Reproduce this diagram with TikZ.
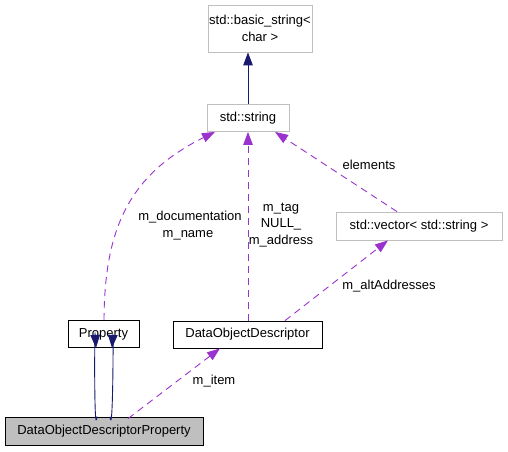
\documentclass[tikz,border=0pt]{standalone}
\usepackage{fontspec}
\setmainfont{Liberation Sans}
\usetikzlibrary{arrows.meta}
\definecolor{edgepurple}{HTML}{9A32CD}
\definecolor{edgenavy}{HTML}{191970}
\definecolor{boxgray}{HTML}{BFBFBF}
\begin{document}
\begin{tikzpicture}[x=1pt,y=-1pt,
  every node/.style={font=\fontsize{13}{16.5}\selectfont, inner sep=0pt, align=center},
  cls/.style={draw=black, line width=0.8pt, minimum height=27pt},
  extcls/.style={draw=boxgray, line width=0.8pt},
  curcls/.style={draw=black, fill=boxgray, line width=0.8pt, minimum height=28pt},
  inh/.style={draw=edgenavy, line width=0.9pt, -{Triangle[length=13pt,width=9.5pt]}},
  usage/.style={draw=edgepurple, line width=0.9pt, dash pattern=on 7pt off 5pt, -{Triangle[length=13pt,width=9.5pt]}},
  lbl/.style={font=\fontsize{13}{16.5}\selectfont}]
\useasboundingbox (0,0) rectangle (508,451);

\node[extcls, minimum width=104pt, minimum height=47pt] (bs) at (260,28.5) {std::basic\_string<\\char >};
\node[extcls, minimum width=82pt, minimum height=27pt] (str) at (248,118) {std::string};
\node[extcls, minimum width=166pt, minimum height=28pt] (vec) at (419,226) {std::vector< std::string >};
\node[cls, minimum width=71pt] (prop) at (103.5,334) {Property};
\node[cls, minimum width=149pt] (dod) at (247.5,334.5) {DataObjectDescriptor};
\node[curcls, minimum width=198pt] (dodp) at (104,431) {DataObjectDescriptorProperty};

% inheritance
\draw[inh] (str.north) -- ([xshift=-12pt]bs.south);
\draw[inh] ([xshift=-7pt]dodp.north) .. controls ([xshift=-10pt,yshift=-25pt]dodp.north) and ([xshift=-9pt,yshift=25pt]prop.south) .. ([xshift=-7.5pt]prop.south);
\draw[inh] ([xshift=6pt]dodp.north) .. controls ([xshift=9pt,yshift=-25pt]dodp.north) and ([xshift=10pt,yshift=25pt]prop.south) .. ([xshift=8.5pt]prop.south);

% usage
\draw[usage] ([xshift=24pt,yshift=-2pt]dodp.north) -- ([xshift=-27.5pt]dod.south);
\node[lbl] (litem) at (214,381) {m\_item};

\draw[usage] ([xshift=0.5pt]prop.north) .. controls (104.5,230) and (128,175) .. ([xshift=-33pt]str.south);
\node[lbl] (ldoc) at (190,217) {m\_documentation};
\node[lbl] (lname) at (188,235) {m\_name};

\draw[usage] ([xshift=0.5pt]dod.north) -- (str.south);
\node[lbl] (ltag) at (281,225) {m\_tag\\NULL\_\\m\_address};

\draw[usage] ([xshift=-22pt]vec.north) -- ([xshift=27pt]str.south);
\node[lbl] (lel) at (369,165) {elements};

\draw[usage] ([xshift=37.5pt]dod.north) -- ([xshift=-31pt]vec.south);
\node[lbl] (lalt) at (389,286) {m\_altAddresses};
\end{tikzpicture}
\end{document}
